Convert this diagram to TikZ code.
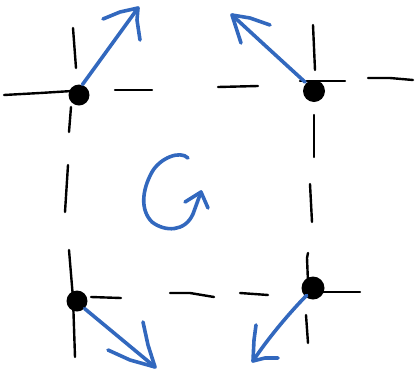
\documentclass[tikz,border=0pt]{standalone}
\begin{document}
\begin{tikzpicture}[x=1pt,y=-1pt,
  ink/.style={line width=2.4pt,line cap=round,line join=round,black},
  pen/.style={line width=3.6pt,line cap=round,line join=round,draw=penblue},
  dotnode/.style={circle,fill=black,inner sep=0pt,minimum size=21pt}]
\definecolor{penblue}{RGB}{50,104,190}
\useasboundingbox (0,0) rectangle (418,373);
% dots
\node[dotnode] (tl) at (79,95) {};
\node[dotnode,minimum size=22pt] (tr) at (314,91) {};
\node[dotnode] (bl) at (77,301) {};
\node[dotnode,minimum size=23pt] (br) at (313,288) {};
% black dashed grid (hand drawn)
\draw[ink] (4,95) -- (40,93) -- (72,91);
\draw[ink] (115,90) -- (152,90);
\draw[ink] (218,87) -- (258,86);
\draw[ink] (300,81) -- (345,81);
\draw[ink] (368,78) -- (390,78) -- (413,80);
\draw[ink] (73,28) -- (76,68);
\draw[ink] (71,107) -- (69,132);
\draw[ink] (68,165) -- (65,212);
\draw[ink] (69,250) -- (73,298) -- (75,357);
\draw[ink] (91,297) -- (121,298);
\draw[ink] (170,293) -- (190,293) -- (214,297);
\draw[ink] (240,293) -- (268,295);
\draw[ink] (323,292) -- (360,292);
\draw[ink] (313,25) -- (315,70);
\draw[ink] (314,115) -- (314,157);
\draw[ink] (310,184) -- (312,222);
\draw[ink] (308,253) -- (307,258) -- (308,282);
\draw[ink] (306,315) -- (308,343);
% blue arrows
\coordinate (tlt) at (138,8);
\coordinate (tla) at (103,19);
\coordinate (tlb) at (140,40);
\draw[pen] (tl.north east) ++(-4,-3) -- (tlt);
\draw[pen] (tla) -- (120,12) -- (tlt) -- (137,20) -- (tlb);
\coordinate (trt) at (232,15);
\coordinate (tra) at (270,25);
\coordinate (trb) at (241,43);
\draw[pen] (tr.north west) ++(-1,-1) .. controls (270,50) .. (trt);
\draw[pen] (tra) -- (250,18) -- (trt) -- (trb);
\coordinate (blt) at (155,367);
\coordinate (bla) at (108,350);
\coordinate (blb) at (143,322);
\draw[pen] (bl.south east) -- (blt);
\draw[pen] (bla) -- (130,360) -- (blt) -- (148,345) -- (blb);
\coordinate (brt) at (253,361);
\coordinate (bra) at (256,325);
\coordinate (brb) at (278,358);
\draw[pen] (br.south west) ++(2,-1) .. controls (292,310) and (268,338) .. (brt);
\draw[pen] (bra) -- (254,340) -- (brt) -- (265,358) -- (brb);
% rotation symbol
\coordinate (gs) at (188,158);
\coordinate (gt) at (201,192);
\draw[pen] (gs) .. controls (180,150) and (160,158) .. (152,172)
  .. controls (142,190) and (140,210) .. (152,222)
  .. controls (165,232) and (185,232) .. (193,214) -- (gt);
\draw[pen] (185,202) -- (gt) -- (208,208);
\end{tikzpicture}
\end{document}
